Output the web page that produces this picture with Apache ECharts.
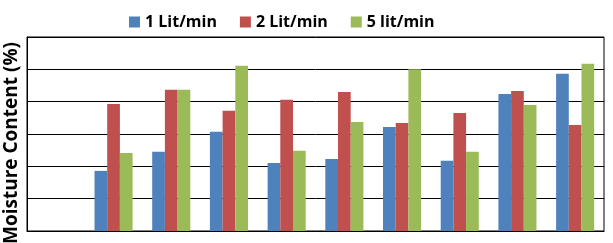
<!DOCTYPE html>
<html>
<head>
<meta charset="utf-8">
<script src="https://cdn.jsdelivr.net/npm/echarts@6/dist/echarts.min.js"></script>
<style>
  html, body { margin: 0; padding: 0; background: #fff; }
  #chart { width: 613px; height: 243px; }
</style>
</head>
<body>
<div id="chart"></div>
<script>
// samples along x (labels hidden in the original), first slot is empty
const categories = ['0', '1', '2', '3', '4', '5', '6', '7', '8', '9'];
const flow1 = [null, 1.86, 2.45, 3.07, 2.10, 2.23, 3.22, 2.17, 4.24, 4.86];
const flow2 = [null, 3.93, 4.37, 3.72, 4.06, 4.30, 3.34, 3.65, 4.33, 3.28];
const flow5 = [null, 2.41, 4.37, 5.11, 2.48, 3.37, 5.00, 2.45, 3.90, 5.17];

const chart = echarts.init(document.getElementById('chart'));
const font = '"Open Sans", Lato, sans-serif';

chart.setOption({
  animation: false,
  color: ['#4f81bd', '#c0504d', '#9bbb59'],
  legend: {
    top: 9,
    left: 124,
    itemWidth: 11,
    itemHeight: 11,
    itemGap: 23,
    icon: 'rect',
    textStyle: { fontFamily: font, fontSize: 16, fontWeight: 'bold', color: '#000' }
  },
  grid: {
    left: 27, right: 9, top: 37, bottom: 12,
    show: true, borderColor: '#000', borderWidth: 1
  },
  xAxis: {
    type: 'category',
    data: categories,
    axisLabel: { show: false },
    axisTick: { show: false },
    axisLine: { lineStyle: { color: '#000' } }
  },
  yAxis: {
    type: 'value',
    min: 0, max: 6, interval: 1,
    axisLabel: { show: false },
    axisTick: { show: false },
    axisLine: { show: true, lineStyle: { color: '#000' } },
    splitLine: { lineStyle: { color: '#000', width: 1 } }
  },
  graphic: [{
    type: 'text',
    x: 12, y: 143,
    rotation: Math.PI / 2,
    style: {
      text: 'Moisture Content (%)',
      font: 'bold 19px ' + font,
      fill: '#000',
      align: 'center',
      verticalAlign: 'middle'
    }
  }],
  series: [
    { name: '1 Lit/min', type: 'bar', data: flow1, barGap: '0%', barCategoryGap: '34%' },
    { name: '2 Lit/min', type: 'bar', data: flow2 },
    { name: '5 lit/min', type: 'bar', data: flow5 }
  ]
});
</script>
</body>
</html>
